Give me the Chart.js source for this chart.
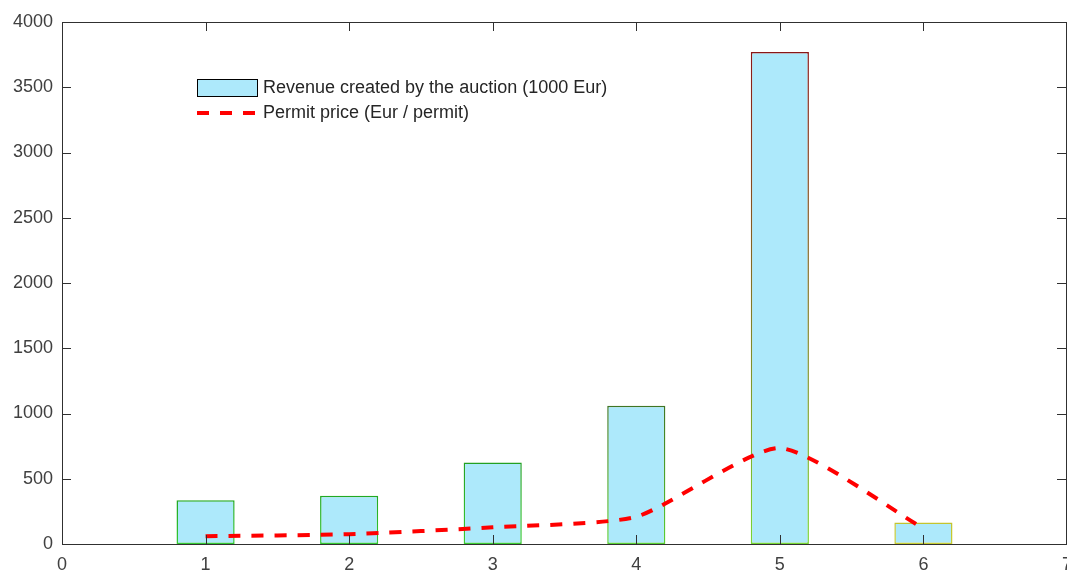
<!DOCTYPE html>
<html>
<head>
<meta charset="utf-8">
<script src="https://cdn.jsdelivr.net/npm/chart.js@4"></script>
<style>
    html, body { margin: 0; padding: 0; background: #fff; overflow: hidden; }
    #wrap { position: relative; width: 1067px; height: 572px; }
    #legend { position: absolute; left: 197px; top: 75px; font-family: "Liberation Sans", Arial, sans-serif; font-size: 18px; color: #262626; }
    .leg-row { display: flex; align-items: center; height: 25px; }
    .leg-box { width: 61px; height: 18px; box-sizing: border-box; border: 1px solid #000; background: #ade9fb; margin-right: 5px; }
</style>
</head>
<body>
<div id="wrap">
    <canvas id="auctionChart" width="1067" height="572"></canvas>
    <div id="legend">
        <div class="leg-row"><div class="leg-box"></div><span>Revenue created by the auction (1000 Eur)</span></div>
        <div class="leg-row"><svg width="61" height="6" style="margin-right:5px"><line x1="0" y1="3" x2="61" y2="3" stroke="#ff0000" stroke-width="4" stroke-dasharray="12 11"/></svg><span>Permit price (Eur / permit)</span></div>
    </div>
</div>
<script>
// ------------------- Data -------------------
const rounds = [1, 2, 3, 4, 5, 6];
const revenue = [335, 370, 625, 1060, 3770, 165];       // 1000 Eur
const permitPrice = [60, 75, 128, 209, 735, 120];       // Eur / permit
const xTicks = [0, 1, 2, 3, 4, 5, 6, 7];
const yTicks = [0, 500, 1000, 1500, 2000, 2500, 3000, 3500, 4000];

// bar edge colours (top, bottom) like the original figure
const edgeTop = ['#22a822', '#22a822', '#22a022', '#3f7424', '#8a1616', '#c4c42e'];
const edgeBottom = ['#33c833', '#33c833', '#3ccc33', '#5ad033', '#77d633', '#c8cc33'];

const axisColor = '#303030';
const labelFont = { family: '"Liberation Sans", Arial, sans-serif', size: 18 };

// ------------------- Box + inward ticks -------------------
const matlabAxes = {
    id: 'matlabAxes',
    afterDraw(chart) {
        const { ctx, chartArea: a, scales } = chart;
        ctx.save();
        ctx.strokeStyle = axisColor;
        ctx.lineWidth = 1;
        ctx.strokeRect(Math.round(a.left) + 0.5, Math.round(a.top) + 0.5,
            Math.round(a.right - a.left) - 1, Math.round(a.bottom - a.top));
        ctx.beginPath();
        yTicks.forEach(v => {
            const y = Math.round(scales.y.getPixelForValue(v)) + 0.5;
            ctx.moveTo(a.left, y); ctx.lineTo(a.left + 9, y);
            ctx.moveTo(a.right - 1, y); ctx.lineTo(a.right - 10, y);
        });
        xTicks.forEach(v => {
            const x = Math.round(scales.x.getPixelForValue(v)) + 0.5;
            ctx.moveTo(x, a.bottom); ctx.lineTo(x, a.bottom - 9);
            ctx.moveTo(x, a.top); ctx.lineTo(x, a.top + 9);
        });
        ctx.stroke();
        ctx.restore();
    }
};

function edgeGradient(context) {
    const chart = context.chart;
    const i = context.dataIndex;
    if (!chart.chartArea || i === undefined) return edgeTop[i] || '#22a822';
    const y = chart.scales.y;
    const g = chart.ctx.createLinearGradient(0, y.getPixelForValue(revenue[i]), 0, y.getPixelForValue(0));
    g.addColorStop(0, edgeTop[i]);
    g.addColorStop(1, edgeBottom[i]);
    return g;
}

// ------------------- Chart -------------------
function initAuctionChart() {
    const canvas = document.getElementById('auctionChart');
    new Chart(canvas.getContext('2d'), {
        type: 'bar',
        data: {
            datasets: [
                {
                    type: 'line',
                    label: 'Permit price (Eur / permit)',
                    data: rounds.map((r, i) => ({ x: r, y: permitPrice[i] })),
                    borderColor: '#ff0000',
                    borderWidth: 4,
                    borderDash: [12, 11],
                    pointRadius: 0,
                    tension: 0.2,
                    fill: false,
                    order: 0
                },
                {
                    type: 'bar',
                    label: 'Revenue created by the auction (1000 Eur)',
                    data: rounds.map((r, i) => ({ x: r, y: revenue[i] })),
                    backgroundColor: '#ade9fb',
                    borderColor: edgeGradient,
                    borderWidth: 1.5,
                    borderSkipped: false,
                    barPercentage: 0.405,
                    categoryPercentage: 1,
                    order: 1
                }
            ]
        },
        options: {
            responsive: false,
            animation: false,
            layout: { padding: { top: 22, right: 0, left: 0, bottom: 0 } },
            plugins: { legend: { display: false }, tooltip: { enabled: false } },
            scales: {
                x: {
                    type: 'linear',
                    offset: false,
                    min: 0, max: 7,
                    afterBuildTicks: s => { s.ticks = xTicks.map(v => ({ value: v })); },
                    afterFit: s => { s.height = 28; s.paddingLeft = 0; s.paddingRight = 0; },
                    grid: { display: false, drawTicks: false, offset: false },
                    border: { display: false },
                    ticks: { font: labelFont, color: '#404040', padding: 10, maxRotation: 0, autoSkip: false, callback: v => String(v) }
                },
                y: {
                    min: 0, max: 4000,
                    afterBuildTicks: s => { s.ticks = yTicks.map(v => ({ value: v })); },
                    afterFit: s => { s.width = 62; s.paddingTop = 0; s.paddingBottom = 0; },
                    grid: { display: false, drawTicks: false },
                    border: { display: false },
                    ticks: { font: labelFont, color: '#404040', padding: 9, callback: v => String(v) }
                }
            }
        },
        plugins: [matlabAxes]
    });
}

document.addEventListener('DOMContentLoaded', initAuctionChart);
</script>
</body>
</html>
